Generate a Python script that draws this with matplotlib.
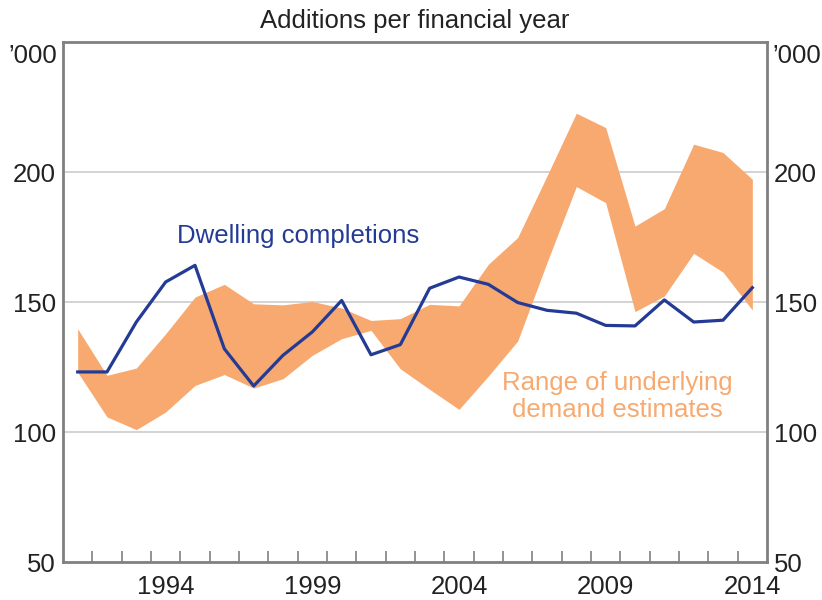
import matplotlib
matplotlib.use("Agg")
import matplotlib.pyplot as plt
from matplotlib.ticker import FixedLocator

plt.rcParams['font.family'] = ['Liberation Sans', 'DejaVu Sans']

years = list(range(1991, 2015))
completions = [123.1, 123.1, 142.3, 157.7, 164.1, 132.0, 117.7, 129.5, 138.5, 150.6,
               129.7, 133.6, 155.3, 159.6, 156.8, 149.8, 146.8, 145.7, 141.0, 140.8,
               150.8, 142.3, 143.0, 155.5]
demand_upper = [139.7, 121.8, 124.6, 137.8, 151.9, 156.8, 149.3, 148.9, 150.2, 147.7,
                142.9, 143.6, 149.1, 148.5, 164.5, 174.8, 198.5, 222.6, 217.1, 179.2,
                185.9, 210.7, 207.5, 197.2]
demand_lower = [123.0, 105.8, 100.9, 107.7, 117.9, 122.1, 116.9, 120.5, 129.5, 135.9,
                139.1, 124.3, 116.4, 108.7, 121.5, 135.0, 165.2, 194.4, 188.2, 146.3,
                152.3, 168.7, 161.5, 146.9]
year_labels = [1994, 1999, 2004, 2009, 2014]
y_ticks = [50, 100, 150, 200]

BLUE = '#233b95'
ORANGE = '#f7a96f'
FRAME = '#808080'
TXT = '#222222'
FS = 18.5

fig = plt.figure(figsize=(8.22, 6.0), dpi=100)
ax = fig.add_axes([63/822, 38/600, 704/822, 520/600])

ax.fill_between(years, demand_lower, demand_upper, color=ORANGE, linewidth=0, zorder=2)
ax.plot(years, completions, color=BLUE, linewidth=2.3, zorder=3)

ax.set_xlim(1990.5, 2014.5)
ax.set_ylim(50, 250)

for v in [100, 150, 200]:
    ax.axhline(v, color='#cccccc', linewidth=1.2, zorder=1)

# minor ticks at year boundaries, labels centred on the year
ax.xaxis.set_minor_locator(FixedLocator([y + 0.5 for y in years[:-1]]))
ax.xaxis.set_major_locator(FixedLocator(year_labels))
ax.tick_params(axis='x', which='minor', direction='in', length=8, width=1.2, color=FRAME)
ax.tick_params(axis='x', which='major', length=0, pad=9, labelsize=FS, labelcolor=TXT)
ax.set_xticklabels([str(y) for y in year_labels])

ax.set_yticks(y_ticks)
ax.tick_params(axis='y', which='both', length=0, pad=5, labelsize=FS, labelcolor=TXT,
               left=True, right=True, labelleft=True, labelright=True)
ax.set_yticklabels([str(v) for v in y_ticks])

for s in ax.spines.values():
    s.set_color(FRAME)
    s.set_linewidth(2)

ax.text(-0.008, 0.997, "\u2019000", transform=ax.transAxes, ha='right', va='top',
        fontsize=FS, color=TXT)
ax.text(1.008, 0.997, "\u2019000", transform=ax.transAxes, ha='left', va='top',
        fontsize=FS, color=TXT)
ax.text(0.5, 1.017, "Additions per financial year", transform=ax.transAxes,
        ha='center', va='bottom', fontsize=FS, color=TXT)

ax.text(1998.5, 175.4, "Dwelling completions", ha='center', va='center',
        fontsize=FS, color=BLUE, zorder=4)
ax.text(2009.4, 113.8, "Range of underlying\ndemand estimates", ha='center', va='center',
        fontsize=FS, color=ORANGE, linespacing=1.17, zorder=4)

fig.savefig("out.png", dpi=100)
